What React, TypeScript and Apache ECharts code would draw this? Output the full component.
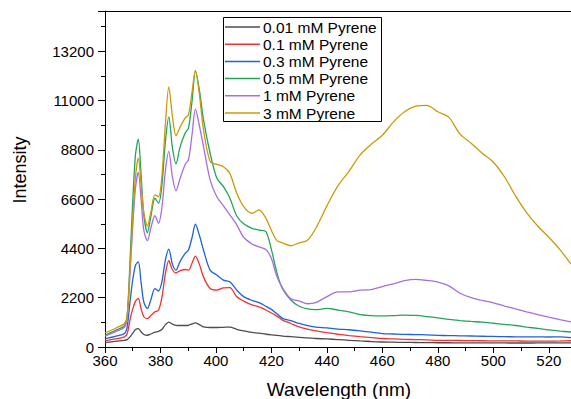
import React, { useEffect, useRef } from "react";
import * as echarts from "echarts";

const wavelengths = [
  360, 364, 367, 368, 369, 370, 371, 372, 373, 374, 375.3, 376.5, 378, 379.3, 380.5, 381.8, 383, 384.3, 385.6, 387,
  388.9, 390.1, 391.4, 392.6, 394, 395.5, 397.9, 400.3, 402.7, 405, 407.5, 410, 413, 415.5, 418, 420, 422, 424, 427, 430,
  433, 436, 440, 444, 448, 452, 456, 460, 464, 468, 472, 476, 480, 484, 488, 492, 496, 500, 504, 508, 512, 516, 520, 524, 528,
];

const pyrene001 = [
  197, 260, 300, 330, 450, 620, 780, 820, 680, 560, 524, 580, 660, 700, 780, 1000, 1110, 1020, 970, 960,
  960, 970, 1030, 1075, 1000, 900, 870, 870, 880, 890, 790, 720, 650, 620, 570, 540, 520, 490, 460, 430,
  410, 380, 360, 330, 300, 270, 245, 224, 215, 205, 200, 195, 190, 190, 185, 185, 182, 180, 180, 178, 178, 180, 180, 180, 180,
];
const pyrene01 = [
  270, 370, 450, 600, 1200, 1700, 2050, 2165, 1700, 1350, 1270, 1400, 1570, 1640, 2200, 3300, 3850, 3450, 3310, 3400,
  3460, 3430, 3750, 4060, 3700, 3130, 2610, 2540, 2640, 2655, 2240, 2050, 1880, 1790, 1650, 1520, 1380, 1200, 1050, 900,
  800, 720, 640, 570, 510, 460, 420, 380, 360, 340, 330, 320, 300, 295, 290, 285, 280, 275, 270, 270, 265, 265, 265, 270, 280,
];
const pyrene03 = [
  360, 480, 600, 900, 2000, 3000, 3650, 3800, 2900, 2000, 1720, 2100, 2610, 2500, 2900, 3900, 4370, 3700, 3430, 3800,
  4180, 4330, 4900, 5480, 5000, 4330, 3430, 3210, 2985, 2910, 2540, 2250, 2080, 1980, 1820, 1680, 1480, 1280, 1180, 1050,
  950, 890, 850, 800, 770, 720, 660, 600, 580, 560, 555, 540, 520, 510, 500, 490, 480, 470, 460, 455, 450, 450, 447, 450, 420,
];
const pyrene05 = [
  524, 750, 950, 1400, 3800, 6500, 8600, 9280, 7700, 5900, 5100, 5800, 6640, 6420, 7200, 9200, 10270, 8900, 8180, 8900,
  9550, 9770, 11000, 12320, 11500, 10150, 8650, 7540, 7160, 6650, 5850, 5500, 5300, 5220, 5150, 4350, 3300, 2600, 2100, 1820,
  1700, 1670, 1720, 1650, 1570, 1450, 1400, 1390, 1400, 1420, 1410, 1360, 1300, 1230, 1180, 1140, 1110, 1060, 1010, 960, 890, 830, 760, 710, 670,
];
const pyrene1 = [
  480, 700, 880, 1300, 3200, 5400, 7100, 7790, 6600, 5200, 4750, 5300, 5860, 5520, 6200, 7900, 8730, 7600, 6970, 7500,
  8150, 8360, 9500, 10620, 9900, 8950, 7460, 6710, 6300, 5900, 5450, 4900, 4600, 4470, 4350, 3950, 3130, 2640, 2150, 2060,
  1930, 1980, 2250, 2460, 2460, 2540, 2560, 2700, 2820, 2960, 3015, 2970, 2900, 2730, 2400, 2200, 2080, 1970, 1830, 1700, 1570, 1450, 1330, 1220, 1120,
];
const pyrene3 = [
  626, 850, 1050, 1400, 3500, 5700, 7600, 8430, 7300, 6000, 5400, 6000, 6790, 6710, 7600, 10000, 11610, 10300, 9430, 9800,
  10220, 10370, 11400, 12350, 11300, 9700, 8280, 8150, 8050, 7750, 6860, 6270, 5970, 6120, 5750, 5200, 4750, 4650, 4520, 4650,
  4770, 5300, 6300, 7200, 7850, 8580, 9050, 9450, 10050, 10500, 10750, 10790, 10500, 10250, 9500, 9100, 8650, 8250, 7600, 6750, 6000, 5400, 4900, 4350, 3700,
];

const seriesNames = ["0.01 mM Pyrene", "0.1 mM Pyrene", "0.3 mM Pyrene", "0.5 mM Pyrene", "1 mM Pyrene", "3 mM Pyrene"];
const seriesValues = [pyrene001, pyrene01, pyrene03, pyrene05, pyrene1, pyrene3];
const colors = ["#4d4d4d", "#f03232", "#1c64d8", "#23a45a", "#a86ee0", "#cc9a06"];

const FONT = "Liberation Sans";

export default function App() {
  const ref = useRef<HTMLDivElement>(null);
  useEffect(() => {
    if (!ref.current) return;
    const chart = echarts.init(ref.current, null, { renderer: "svg" });
    const series = seriesNames.map((name, i) => ({
      name,
      type: "line",
      data: wavelengths.map((w, j) => [w, seriesValues[i][j]]),
      symbol: "none",
      smooth: 0.3,
      lineStyle: { color: colors[i], width: 1.3 },
      itemStyle: { color: colors[i] },
      xAxisIndex: 0,
      yAxisIndex: 0,
    }));

    // legend drawn as graphic elements (box, line samples, labels)
    const legendX = 223;
    const legendY = 17;
    const rowH = 17.2;
    const legendItems: any[] = [
      {
        type: "rect",
        shape: { x: legendX + 0.5, y: legendY + 0.5, width: 158, height: 104 },
        style: { fill: "#fff", stroke: "#000", lineWidth: 1 },
        z: 100,
      },
    ];
    seriesNames.forEach((name, i) => {
      const cy = legendY + 10 + i * rowH;
      legendItems.push({
        type: "line",
        shape: { x1: legendX + 2, y1: cy, x2: legendX + 37, y2: cy },
        style: { stroke: colors[i], lineWidth: 1.5 },
        z: 101,
      });
      legendItems.push({
        type: "text",
        x: legendX + 40,
        y: cy,
        style: {
          text: name,
          font: `15.5px "${FONT}"`,
          fill: "#000",
          align: "left",
          verticalAlign: "middle",
        },
        z: 101,
      });
    });

    chart.setOption({
      animation: false,
      backgroundColor: "#fff",
      grid: { left: 105, right: 0, top: 11, bottom: 52, containLabel: false },
      xAxis: [
        {
          type: "value",
          min: 360,
          max: 528,
          interval: 20,
          axisLine: { show: true, lineStyle: { color: "#000", width: 1 } },
          axisTick: { show: true, length: 6, lineStyle: { color: "#000" } },
          minorTick: { show: true, splitNumber: 2, length: 4, lineStyle: { color: "#000" } },
          splitLine: { show: false },
          axisLabel: {
            showMaxLabel: false,
            margin: 6,
            fontFamily: FONT,
            fontSize: 15,
            color: "#000",
            formatter: (v: number) => String(v),
          },
        },
        {
          type: "value",
          position: "top",
          min: 360,
          max: 528,
          axisLine: { show: true, onZero: false, lineStyle: { color: "#000", width: 1 } },
          axisTick: { show: false },
          axisLabel: { show: false },
          splitLine: { show: false },
        },
      ],
      yAxis: {
        type: "value",
        min: 0,
        max: 15000,
        interval: 2200,
        axisLine: { show: true, lineStyle: { color: "#000", width: 1 } },
        axisTick: { show: true, length: 7, lineStyle: { color: "#000" } },
        minorTick: { show: true, splitNumber: 2, length: 4, lineStyle: { color: "#000" } },
        splitLine: { show: false },
        axisLabel: {
          showMaxLabel: false,
          margin: 11,
          fontFamily: FONT,
          fontSize: 15,
          color: "#000",
          formatter: (v: number) => String(v),
        },
      },
      graphic: [
        {
          type: "text",
          x: 20,
          y: 170,
          rotation: Math.PI / 2,
          style: {
            text: "Intensity",
            font: `18px "${FONT}"`,
            fill: "#000",
            align: "center",
            verticalAlign: "middle",
          },
        },
        {
          type: "text",
          x: 339,
          y: 390,
          scaleX: 1.06,
          style: {
            text: "Wavelength (nm)",
            font: `18px "${FONT}"`,
            fill: "#000",
            align: "center",
            verticalAlign: "middle",
          },
        },
        ...legendItems,
      ],
      series,
    });
    return () => chart.dispose();
  }, []);
  return (
    <div
      ref={ref}
      style={{ position: "absolute", left: 0, top: 0, width: 571, height: 399 }}
    />
  );
}
